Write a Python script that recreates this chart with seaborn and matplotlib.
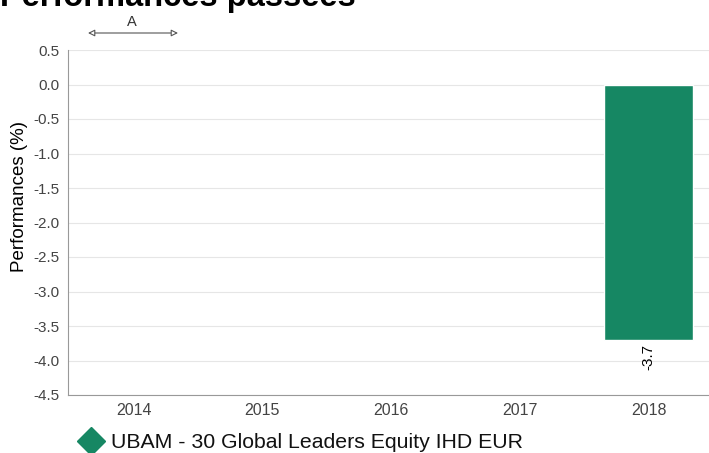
import matplotlib
matplotlib.use("Agg")
import matplotlib.pyplot as plt
from matplotlib.lines import Line2D
import seaborn as sns
import pandas as pd

# data
years = ["2014", "2015", "2016", "2017", "2018"]
perf_years = ["2018"]
perf_values = [-3.7]
fund_name = "UBAM - 30 Global Leaders Equity IHD EUR"
bar_color = "#168763"

sns.set_theme(style="white")
plt.rcParams["font.family"] = ["Liberation Sans", "DejaVu Sans"]

df = pd.DataFrame({"year": perf_years, "perf": perf_values})

fig = plt.figure(figsize=(7.09, 4.53), dpi=100)
ax = fig.add_axes([68 / 709, 1 - 395 / 453, 1 - 68 / 709, (395 - 50) / 453])

sns.barplot(data=df, x="year", y="perf", order=years, color=bar_color,
            width=0.69, saturation=1, ax=ax, zorder=3)

ax.set_xlim(-0.51, 4.47)
ax.set_ylim(-4.5, 0.5)
ax.set_yticks([0.5, 0.0, -0.5, -1.0, -1.5, -2.0, -2.5, -3.0, -3.5, -4.0, -4.5])
ax.yaxis.set_major_formatter(matplotlib.ticker.FormatStrFormatter("%.1f"))
ax.grid(axis="y", color="#e6e6e6", linewidth=0.8, zorder=0)
ax.tick_params(axis="y", length=0, labelsize=11, labelcolor="#444444", pad=6)
ax.tick_params(axis="x", length=0, labelsize=11.5, labelcolor="#444444", pad=6)
ax.set_xlabel("")
ax.set_ylabel("Performances (%)", fontsize=13.5, color="black")
ax.yaxis.set_label_coords(-0.0625, 0.574)
for s in ["top", "right"]:
    ax.spines[s].set_visible(False)
for s in ["left", "bottom"]:
    ax.spines[s].set_color("#999999")
    ax.spines[s].set_linewidth(0.8)

for c in ax.containers:
    ax.bar_label(c, labels=["%.1f" % v for v in perf_values], rotation=90,
                 padding=3, fontsize=11, color="black")

# title (cut off at top like the original)
fig.text(0.0, 1 - 6 / 453, "Performances passées", fontsize=23.5,
         fontweight="bold", va="baseline", ha="left", color="black")

# arrow annotation "A"
ax.annotate("", xy=(88 / 709, 1 - 33 / 453), xytext=(178 / 709, 1 - 33 / 453),
            xycoords="figure fraction", textcoords="figure fraction",
            arrowprops=dict(arrowstyle="<|-|>", edgecolor="#555555", lw=0.8,
                            facecolor="white", mutation_scale=10,
                            shrinkA=0, shrinkB=0),
            annotation_clip=False)
fig.text(132 / 709, 1 - 22 / 453, "A", fontsize=10.5, ha="center", va="center",
         color="#333333")

# legend
handle = Line2D([], [], marker="D", color=bar_color, linestyle="none",
                markersize=14)
fig.legend([handle], [fund_name], loc="center left",
           bbox_to_anchor=(80 / 709, 1 - 443 / 453), frameon=False,
           fontsize=15.3, handlelength=1.0, handletextpad=0.45, borderaxespad=0,
           borderpad=0, labelcolor="#111111")

fig.savefig("out.png", dpi=100)
